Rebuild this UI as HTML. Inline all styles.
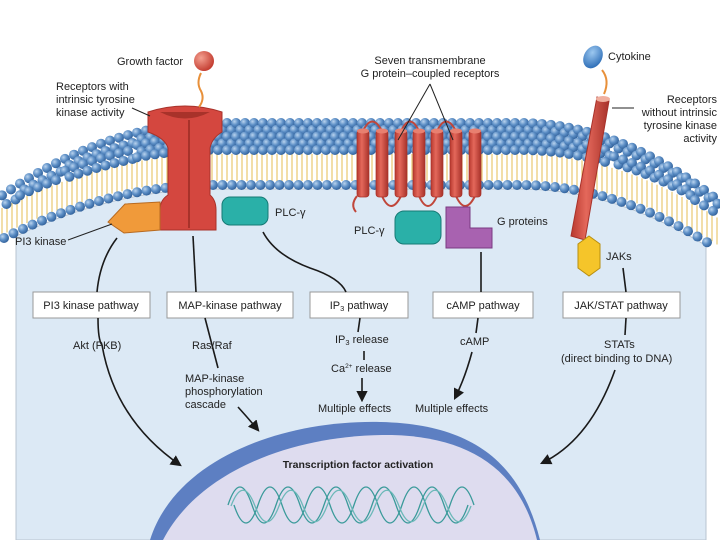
<!DOCTYPE html>
<html><head><meta charset="utf-8"><style>
body{margin:0;background:#fff}
svg{display:block}
text{font-family:"Liberation Sans",sans-serif;font-size:11px;fill:#222}
.b{fill:#fff;stroke:#999;stroke-width:1}
.ln{fill:none;stroke:#1a1a1a;stroke-width:1.6}
</style></head><body>
<svg id="s" width="720" height="540" viewBox="0 0 720 540" xmlns="http://www.w3.org/2000/svg">
<defs>
<radialGradient id="sp" cx="0.35" cy="0.35" r="0.7"><stop offset="0" stop-color="#b9d3ee"/><stop offset="0.5" stop-color="#5d8fc6"/><stop offset="1" stop-color="#2f5f99"/></radialGradient>
<radialGradient id="gf" cx="0.35" cy="0.35" r="0.7"><stop offset="0" stop-color="#f4a090"/><stop offset="1" stop-color="#c23a2e"/></radialGradient>
<radialGradient id="ck" cx="0.35" cy="0.35" r="0.7"><stop offset="0" stop-color="#9cc8f0"/><stop offset="1" stop-color="#2f6fb8"/></radialGradient>
<linearGradient id="cyl" x1="0" x2="1"><stop offset="0" stop-color="#b8392f"/><stop offset="0.4" stop-color="#e4685b"/><stop offset="1" stop-color="#a8322a"/></linearGradient>
<marker id="ar" viewBox="0 0 10 10" refX="8" refY="5" markerWidth="7" markerHeight="7" orient="auto"><path d="M0,0 L10,5 L0,10 z" fill="#1a1a1a"/></marker>
</defs>
<path id="cell" fill="#dce9f5" stroke="#b8c4d0" stroke-width="1"/>
<g id="mem"></g>
<!-- nucleus -->
<path d="M150,540 C175,460 280,420 380,422 C470,424 520,460 540,540 Z" fill="#5d7fc2"/>
<path d="M163,540 C198,472 292,434 392,435 C470,437 520,470 537,540 Z" fill="#dedcef"/>
<text x="358" y="468" text-anchor="middle" style="font-weight:bold;font-size:10.5px">Transcription factor activation</text>
<g fill="none" stroke="#3a9a9a" stroke-width="1.3">
<path d="M228,505 c8,-24 16,-24 24,0 s16,24 24,0 s16,-24 24,0 s16,24 24,0 s16,-24 24,0 s16,24 24,0 s16,-24 24,0 s16,24 24,0 s16,-24 24,0 s16,24 24,0"/>
<path d="M234,505 c8,24 16,24 24,0 s16,-24 24,0 s16,24 24,0 s16,-24 24,0 s16,24 24,0 s16,-24 24,0 s16,24 24,0 s16,-24 24,0 s16,24 24,0 s16,-24 24,0"/>
<path d="M231,506 c8,-21 16,-21 24,0 s16,21 24,0 s16,-21 24,0 s16,21 24,0 s16,-21 24,0 s16,21 24,0 s16,-21 24,0 s16,21 24,0 s16,-21 24,0 s16,21 24,0" stroke="#6bb8b8"/>
</g>
<!-- RTK receptor -->
<path d="M148,112 Q185,100 222,112 L222,132 Q212,138 210,148 L210,195 Q216,200 216,210 L216,230 L160,230 L160,210 Q160,200 168,195 L168,148 Q165,138 148,132 Z" fill="#d4473f" stroke="#a8322a" stroke-width="1"/>
<path d="M160,112 Q185,125 210,112" fill="#a8322a"/>
<line x1="189" y1="120" x2="189" y2="228" stroke="#a8322a" stroke-width="2"/>
<circle cx="204" cy="61" r="10" fill="url(#gf)"/>
<path d="M201,73 q-5,10 0,18 q4,8 -2,16" stroke="#e8903a" stroke-width="2" fill="none"/>
<text x="117" y="65">Growth factor</text>
<text x="56" y="90">Receptors with</text>
<text x="56" y="103">intrinsic tyrosine</text>
<text x="56" y="116">kinase activity</text>
<line x1="132" y1="108" x2="150" y2="116" stroke="#222"/>
<!-- PI3 kinase -->
<path d="M125,204 L160,202 L160,230 L124,233 L108,222 Z" fill="#f09a3a" stroke="#b86a20"/>
<text x="15" y="245">PI3 kinase</text>
<line x1="68" y1="240" x2="112" y2="224" stroke="#222"/>
<!-- PLC left -->
<rect x="222" y="197" width="46" height="28" rx="8" fill="#2ab0a8" stroke="#167a75"/>
<text x="275" y="216">PLC-γ</text>
<!-- GPCR -->
<g id="gp"></g>
<text x="430" y="64" text-anchor="middle">Seven transmembrane</text>
<text x="430" y="77" text-anchor="middle">G protein–coupled receptors</text>
<path d="M430,84 L398,140 M430,84 L453,140" stroke="#222" fill="none"/>
<rect x="395" y="211" width="46" height="33" rx="9" fill="#2ab0a8" stroke="#167a75"/>
<text x="354" y="234">PLC-γ</text>
<path d="M446,207 L470,207 L470,228 L492,228 L492,248 L446,248 Z" fill="#a862b0" stroke="#7a3a82"/>
<text x="497" y="225">G proteins</text>
<!-- cytokine receptor -->
<path d="M597,97 L609,101 L585,240 L571,236 Z" fill="url(#cyl)" stroke="#a8322a"/>
<ellipse cx="603" cy="99" rx="7" ry="3" fill="#f0b0a0"/>
<ellipse cx="593" cy="57" rx="9" ry="12" transform="rotate(30 593 57)" fill="url(#ck)"/>
<path d="M602,70 q8,10 2,24" stroke="#e8903a" stroke-width="2" fill="none"/>
<text x="608" y="60">Cytokine</text>
<text x="717" y="103" text-anchor="end">Receptors</text>
<text x="717" y="116" text-anchor="end">without intrinsic</text>
<text x="717" y="129" text-anchor="end">tyrosine kinase</text>
<text x="717" y="142" text-anchor="end">activity</text>
<line x1="634" y1="108" x2="612" y2="108" stroke="#222"/>
<path d="M589,236 L600,244 L600,268 L589,276 L578,268 L578,244 Z" fill="#f5c52a" stroke="#b88e10"/>
<text x="606" y="260">JAKs</text>
<!-- boxes -->
<rect class="b" x="33" y="292" width="117" height="26"/><text x="91" y="309" text-anchor="middle">PI3 kinase pathway</text>
<rect class="b" x="167" y="292" width="126" height="26"/><text x="230" y="309" text-anchor="middle">MAP-kinase pathway</text>
<rect class="b" x="310" y="292" width="98" height="26"/><text x="359" y="309" text-anchor="middle">IP<tspan dy="2" font-size="7.5">3</tspan><tspan dy="-2"> pathway</tspan></text>
<rect class="b" x="433" y="292" width="100" height="26"/><text x="483" y="309" text-anchor="middle">cAMP pathway</text>
<rect class="b" x="563" y="292" width="117" height="26"/><text x="621" y="309" text-anchor="middle">JAK/STAT pathway</text>
<!-- connectors -->
<path class="ln" d="M117,238 Q100,260 97,292"/>
<path class="ln" d="M98,318 Q98,340 102,345 Q115,420 180,465" marker-end="url(#ar)"/>
<path class="ln" d="M193,236 L196,292"/>
<path class="ln" d="M205,318 L218,368"/>
<path class="ln" d="M238,407 Q248,418 258,430" marker-end="url(#ar)"/>
<path class="ln" d="M263,232 Q275,255 310,268 Q340,278 346,292"/>
<path class="ln" d="M360,318 L358,332"/>
<path class="ln" d="M364,351 L364,360"/>
<path class="ln" d="M362,378 L362,400" marker-end="url(#ar)"/>
<path class="ln" d="M481,252 L481,292"/>
<path class="ln" d="M478,318 L476,333"/>
<path class="ln" d="M472,352 Q465,378 455,398" marker-end="url(#ar)"/>
<path class="ln" d="M623,268 L626,292"/>
<path class="ln" d="M626,318 L625,335"/>
<path class="ln" d="M615,370 Q590,440 542,463" marker-end="url(#ar)"/>
<text x="73" y="349">Akt (PKB)</text>
<text x="192" y="349">Ras/Raf</text>
<text x="185" y="382">MAP-kinase</text>
<text x="185" y="395">phosphorylation</text>
<text x="185" y="408">cascade</text>
<text x="335" y="343">IP<tspan dy="2" font-size="7.5">3</tspan><tspan dy="-2"> release</tspan></text>
<text x="331" y="372">Ca<tspan dy="-4" font-size="6.5">2+</tspan><tspan dy="4"> release</tspan></text>
<text x="318" y="412">Multiple effects</text>
<text x="415" y="412">Multiple effects</text>
<text x="460" y="345">cAMP</text>
<text x="604" y="348">STATs</text>
<text x="561" y="362">(direct binding to DNA)</text>
</svg>
<script>
var NS="http://www.w3.org/2000/svg";
function f(x){if(x<215)return 150+50*Math.pow((215-x)/205,2);if(x>520)return 150+53*Math.pow((x-520)/180,2);return 150;}
function g(x){if(x<215)return 123+67*Math.pow((215-x)/205,2);if(x>520)return 123+64*Math.pow((x-520)/180,2);return 123;}
function L(x){return f(x)+35;}
var cp="M16,540 L16,"+L(16);for(var x=16;x<=706;x+=6)cp+=" L"+x+","+(L(x)+4);cp+=" L706,540 Z";
document.getElementById("cell").setAttribute("d",cp);
var m=document.getElementById("mem"),h="";
for(var x=2;x<=718;x+=5){var a=f(x)+4,b=L(x)-4;h+='<line x1="'+x+'" y1="'+a+'" x2="'+x+'" y2="'+b+'" stroke="#e8c870" stroke-width="1.2"/>';}
for(var x=4;x<=716;x+=9.5){h+='<circle cx="'+x+'" cy="'+L(x)+'" r="5" fill="url(#sp)"/>';}
for(var x=2;x<=718;x+=9){var t=f(x)-g(x),n=Math.max(1,Math.round(t/7));for(var i=0;i<=n;i++){var y=g(x)+t*i/n;h+='<circle cx="'+(x+(i%2)*4.5)+'" cy="'+y+'" r="5" fill="url(#sp)"/>';}}
m.innerHTML=h;
var gp=document.getElementById("gp"),s="",xs=[357,376,395,413,431,450,469];
for(var i=0;i<7;i++){var x=xs[i];
if(i<6){if(i%2==0)s+='<path d="M'+(x+6)+',131 Q'+(x+15)+',112 '+(xs[i+1]+6)+',131" stroke="#c0463a" stroke-width="2" fill="none"/>';else s+='<path d="M'+(x+6)+',196 Q'+(x+15)+',216 '+(xs[i+1]+6)+',196" stroke="#c0463a" stroke-width="2" fill="none"/>';}
s+='<rect x="'+x+'" y="130" width="12" height="67" rx="3" fill="url(#cyl)" stroke="#a8322a" stroke-width="0.7"/><ellipse cx="'+(x+6)+'" cy="131" rx="6" ry="2.5" fill="#e88070"/>';}
s+='<path d="M357,196 Q350,205 356,212" stroke="#c0463a" stroke-width="2" fill="none"/>';
gp.innerHTML=s;
</script>
</body></html>
